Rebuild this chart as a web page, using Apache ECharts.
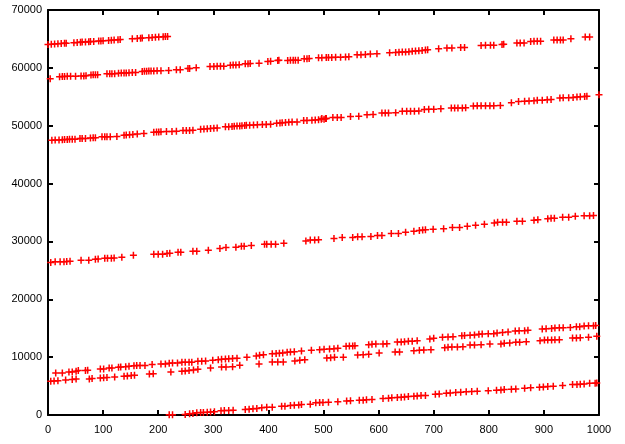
<!DOCTYPE html>
<html>
<head>
<meta charset="utf-8">
<script src="https://cdn.jsdelivr.net/npm/echarts@6/dist/echarts.min.js"></script>
<style>html,body{margin:0;padding:0;background:#fff}#c{width:625px;height:444px}</style>
</head>
<body>
<div id="c"></div>
<script>
const xTicks = [0,100,200,300,400,500,600,700,800,900,1000];
const yTicks = [0,10000,20000,30000,40000,50000,60000,70000];

const bandA = [[0,64050],[6,64080],[12,64120],[18,64150],[24,64190],[30,64240],[33,64260],[47,64350],[53,64380],[59,64420],[62,64450],[68,64480],[74,64520],[77,64540],[83,64570],[92,64630],[96,64660],[100,64680],[110,64750],[115,64790],[120,64810],[127,64860],[131,64890],[153,65020],[162,65080],[168,65120],[171,65150],[183,65220],[189,65260],[195,65300],[201,65340],[209,65390],[213,65410],[217,65440]];

const bandB = [[4,58130],[21,58480],[26,58500],[30,58520],[35,58530],[41,58540],[50,58570],[60,58590],[65,58600],[69,58620],[78,58780],[82,58800],[86,58810],[90,58830],[107,58960],[112,58980],[116,58990],[121,59000],[128,59080],[133,59100],[138,59110],[142,59120],[147,59140],[153,59180],[159,59200],[171,59380],[175,59400],[179,59420],[183,59440],[187,59450],[192,59470],[198,59490],[205,59510],[219,59550],[233,59660],[240,59690],[254,59890],[257,59910],[269,60000],[294,60220],[301,60250],[307,60260],[313,60280],[319,60290],[331,60450],[336,60480],[341,60500],[347,60520],[358,60700],[363,60720],[367,60740],[383,60780],[399,61100],[404,61130],[417,61280],[419,61300],[435,61290],[440,61300],[445,61310],[449,61320],[454,61330],[465,61560],[470,61580],[474,61600],[491,61730],[497,61750],[505,61770],[509,61780],[515,61800],[522,61820],[531,61850],[540,61880],[546,61900],[561,62270],[568,62280],[576,62300],[585,62400],[597,62440],[620,62620],[631,62650],[637,62680],[643,62720],[649,62760],[655,62800],[661,62850],[667,62900],[673,62950],[679,63000],[685,63080],[689,63130],[709,63300],[724,63420],[733,63430],[749,63530],[756,63540],[786,63880],[794,63890],[803,63900],[809,63910],[824,64050],[827,64060],[851,64280],[857,64290],[864,64300],[876,64570],[882,64580],[888,64590],[894,64600],[918,64800],[924,64810],[930,64820],[935,64830],[949,65030],[975,65320],[983,65330]];

const bandC = [[7,47500],[13,47510],[20,47520],[26,47580],[30,47600],[35,47620],[39,47650],[44,47660],[49,47670],[58,47780],[62,47800],[68,47810],[77,47880],[82,47900],[86,47910],[98,48080],[103,48090],[107,48100],[113,48110],[125,48140],[138,48360],[142,48400],[148,48450],[154,48500],[162,48550],[174,48650],[192,48870],[197,48900],[201,48920],[205,48940],[215,48980],[225,49000],[233,49030],[245,49170],[251,49180],[257,49190],[263,49200],[277,49400],[283,49430],[289,49480],[295,49510],[301,49550],[307,49600],[322,49800],[328,49830],[334,49870],[338,49900],[343,49940],[348,49970],[352,50000],[357,50030],[360,50060],[366,50100],[373,50140],[380,50170],[389,50200],[396,50230],[404,50250],[415,50430],[421,50460],[425,50500],[431,50550],[437,50600],[443,50640],[452,50660],[464,50890],[470,50920],[479,50960],[485,51000],[491,51050],[496,51100],[501,51130],[505,51240],[497,51240],[504,51250],[517,51410],[525,51420],[532,51430],[549,51600],[564,51640],[579,51900],[590,51920],[606,52180],[612,52200],[618,52210],[631,52230],[643,52480],[651,52490],[658,52500],[665,52520],[673,52540],[683,52820],[691,52840],[700,52860],[713,52950],[732,53050],[738,53060],[744,53070],[752,53080],[758,53090],[772,53420],[779,53430],[786,53440],[794,53450],[802,53460],[809,53470],[821,53480],[841,53990],[854,54200],[865,54250],[873,54280],[882,54330],[888,54380],[897,54420],[906,54480],[913,54510],[929,54800],[935,54820],[945,54850],[953,54880],[960,54950],[966,55000],[974,55060],[978,55090],[1000,55370]];

const bandD = [[5,26350],[13,26470],[22,26470],[29,26480],[34,26520],[40,26580],[60,26750],[74,26760],[86,26930],[91,26980],[103,27100],[108,27100],[115,27110],[120,27120],[134,27270],[155,27610],[192,27790],[200,27790],[208,27800],[216,27900],[221,27960],[236,28130],[241,28140],[263,28300],[270,28310],[291,28480],[312,28760],[323,28940],[341,28990],[351,29170],[356,29180],[369,29280],[393,29510],[397,29510],[405,29520],[413,29520],[428,29680],[468,30090],[476,30260],[484,30260],[491,30270],[519,30490],[534,30660],[553,30670],[562,30830],[570,30830],[586,30840],[598,31010],[606,31020],[623,31350],[636,31360],[649,31580],[664,31750],[674,31870],[680,31980],[685,32040],[699,32100],[718,32210],[734,32390],[747,32400],[761,32610],[776,32790],[792,32960],[810,33190],[816,33310],[825,33310],[832,33320],[851,33480],[861,33490],[882,33650],[889,33760],[907,33940],[913,34000],[919,34010],[934,34170],[945,34180],[957,34340],[973,34450],[983,34450],[990,34460]];

const bandE = [[14,7270],[26,7280],[38,7440],[44,7450],[51,7560],[55,7670],[68,7680],[72,7730],[95,7960],[101,7970],[111,8130],[116,8140],[128,8250],[132,8300],[141,8360],[147,8420],[156,8530],[161,8540],[167,8540],[176,8550],[189,8710],[205,8820],[213,8830],[220,8940],[226,8990],[235,9000],[243,9110],[249,9110],[256,9120],[261,9120],[272,9280],[279,9290],[286,9340],[299,9450],[309,9570],[315,9630],[322,9680],[328,9740],[335,9750],[343,9800],[361,9970],[378,10200],[384,10320],[391,10430],[407,10600],[414,10610],[420,10660],[426,10720],[434,10830],[440,10890],[447,10950],[460,11060],[478,11180],[493,11290],[501,11350],[511,11410],[519,11470],[526,11520],[541,11870],[547,11930],[553,11940],[557,11980],[582,12160],[588,12210],[595,12270],[608,12280],[615,12330],[634,12610],[641,12620],[647,12670],[654,12730],[661,12740],[670,12850],[693,13130],[700,13250],[716,13420],[726,13480],[735,13540],[751,13710],[756,13720],[766,13770],[774,13820],[782,13940],[788,13990],[799,14050],[809,14060],[815,14170],[825,14280],[835,14340],[848,14510],[855,14570],[865,14580],[871,14630],[897,14860],[904,14910],[914,14970],[920,15030],[928,15090],[935,15100],[948,15140],[959,15260],[965,15270],[973,15370],[981,15430],[990,15440],[994,15490]];

const bandF = [[5,5830],[11,5890],[18,5900],[32,6060],[44,6120],[51,6240],[75,6240],[80,6290],[95,6410],[101,6420],[107,6470],[121,6580],[138,6700],[144,6750],[151,6810],[157,6870],[184,7100],[191,7110],[223,7440],[243,7560],[249,7620],[256,7670],[264,7790],[272,7900],[295,8130],[315,8300],[323,8310],[335,8360],[348,8590],[383,8820],[407,9170],[417,9170],[427,9180],[448,9340],[457,9460],[466,9570],[506,9860],[513,9910],[520,9970],[536,9980],[562,10370],[572,10430],[582,10490],[601,10720],[630,10890],[638,10900],[664,11120],[674,11180],[682,11240],[695,11290],[720,11640],[726,11700],[733,11750],[743,11760],[753,11810],[766,12100],[774,12100],[786,12160],[802,12270],[822,12280],[828,12390],[838,12440],[849,12560],[856,12560],[868,12670],[893,12850],[901,12960],[907,12960],[914,12970],[920,13020],[928,13020],[952,13300],[959,13310],[966,13360],[981,13420],[996,13590]];

const bandG = [[220,30],[226,30],[249,90],[257,200],[263,260],[270,370],[277,430],[282,440],[289,490],[295,500],[302,550],[314,720],[320,780],[328,780],[336,830],[358,950],[365,1010],[372,1060],[379,1120],[388,1240],[397,1350],[407,1360],[424,1520],[430,1530],[440,1640],[447,1700],[455,1750],[460,1810],[476,1870],[486,2100],[493,2160],[499,2160],[509,2210],[526,2270],[542,2440],[549,2450],[565,2560],[572,2560],[578,2620],[588,2670],[608,2850],[618,2900],[624,2960],[634,3020],[641,3080],[647,3130],[654,3190],[664,3250],[670,3300],[677,3360],[685,3370],[703,3590],[710,3650],[723,3770],[730,3820],[740,3880],[749,3940],[759,4000],[769,4050],[779,4110],[799,4170],[814,4280],[822,4340],[828,4400],[841,4460],[849,4510],[865,4630],[876,4690],[892,4800],[899,4860],[907,4920],[917,4970],[934,5090],[952,5260],[960,5260],[966,5320],[973,5370],[983,5490],[993,5490],[996,5550]];

const bands = [bandA, bandB, bandC, bandD, bandE, bandF, bandG];

const plus = 'path://M2.75,0H4.25V2.75H7V4.25H4.25V7H2.75V4.25H0V2.75H2.75Z';
const font = 'Liberation Sans';
const plain = v => String(v);

function xAx(pos, showLabel) {
  return {
    type: 'value', position: pos, min: xTicks[0], max: xTicks[xTicks.length - 1], interval: xTicks[1] - xTicks[0],
    axisLine: {show: true, onZero: false, lineStyle: {color: '#000', width: 2}},
    axisTick: {show: true, inside: true, length: 5, lineStyle: {color: '#000', width: 2}},
    axisLabel: {show: showLabel, color: '#000', fontSize: 11, fontFamily: font, margin: 9, formatter: plain},
    splitLine: {show: false}
  };
}
function yAx(pos, showLabel) {
  return {
    type: 'value', position: pos, min: yTicks[0], max: yTicks[yTicks.length - 1], interval: yTicks[1] - yTicks[0],
    axisLine: {show: true, onZero: false, lineStyle: {color: '#000', width: 2}},
    axisTick: {show: true, inside: true, length: 5, lineStyle: {color: '#000', width: 2}},
    axisLabel: {show: showLabel, color: '#000', fontSize: 11, fontFamily: font, margin: 6, formatter: plain},
    splitLine: {show: false}
  };
}

const chart = echarts.init(document.getElementById('c'), null, {renderer: 'canvas'});
chart.setOption({
  animation: false,
  backgroundColor: '#fff',
  grid: {left: 48, right: 26, top: 10, bottom: 29, containLabel: false},
  xAxis: [xAx('bottom', true), xAx('top', false)],
  yAxis: [yAx('left', true), yAx('right', false)],
  series: bands.map(b => ({
    type: 'scatter',
    data: b,
    symbol: plus,
    symbolSize: 7,
    itemStyle: {color: '#ff0000', opacity: 1},
    emphasis: {disabled: true},
    clip: true
  }))
});
</script>
</body>
</html>
